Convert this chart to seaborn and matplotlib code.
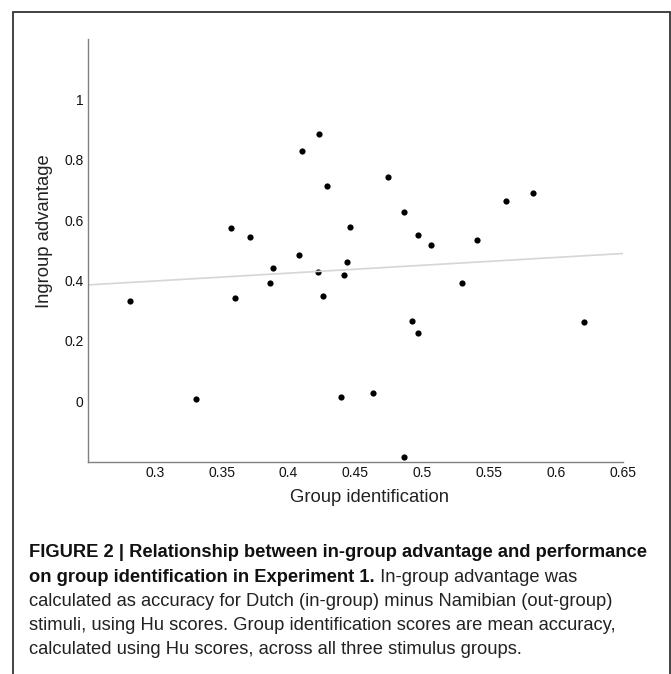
import pandas as pd
import matplotlib
matplotlib.use('Agg')
import matplotlib.pyplot as plt
import seaborn as sns
from matplotlib.patches import Rectangle

# values
group_id = [0.357, 0.371, 0.4225, 0.4097, 0.4746, 0.4287, 0.4864, 0.4462,
            0.4966, 0.5066, 0.408, 0.4434, 0.541, 0.5622, 0.5822, 0.2817,
            0.3603, 0.3311, 0.3885, 0.386, 0.4217, 0.4417, 0.4255, 0.4921,
            0.4966, 0.4392, 0.4627, 0.4861, 0.5293, 0.6206]
ingroup_adv = [0.575, 0.546, 0.887, 0.831, 0.745, 0.712, 0.627, 0.579,
               0.551, 0.519, 0.486, 0.461, 0.534, 0.665, 0.692, 0.332,
               0.344, 0.008, 0.441, 0.393, 0.429, 0.420, 0.348, 0.267,
               0.227, 0.015, 0.028, -0.183, 0.393, 0.263]

x_ticks = [0.3, 0.35, 0.4, 0.45, 0.5, 0.55, 0.6, 0.65]
x_tick_labels = ['0.3', '0.35', '0.4', '0.45', '0.5', '0.55', '0.6', '0.65']
y_ticks = [0, 0.2, 0.4, 0.6, 0.8, 1]
y_tick_labels = ['0', '0.2', '0.4', '0.6', '0.8', '1']

caption_bold_1 = 'FIGURE 2 | Relationship between in-group advantage and performance'
caption_bold_2 = 'on group identification in Experiment 1.'
caption_rest_2 = ' In-group advantage was'
caption_lines = ['calculated as accuracy for Dutch (in-group) minus Namibian (out-group)',
                 'stimuli, using Hu scores. Group identification scores are mean accuracy,',
                 'calculated using Hu scores, across all three stimulus groups.']

df = pd.DataFrame({'Group identification': group_id,
                   'Ingroup advantage': ingroup_adv})

sns.set_style('white')
plt.rcParams['font.family'] = ['Liberation Sans', 'DejaVu Sans']

fig = plt.figure(figsize=(6.71, 6.74), dpi=100)
ax = fig.add_axes([0.1307, 0.315, 0.7982, 0.6268])
ax.set_xlim(0.25, 0.65)
ax.set_ylim(-0.2, 1.2)

sns.regplot(data=df, x='Group identification', y='Ingroup advantage',
            ci=None, truncate=False, ax=ax,
            scatter_kws=dict(s=20, color='black', linewidths=0, alpha=1),
            line_kws=dict(color='#d6d6d6', lw=1.2))

ax.set_xlim(0.25, 0.65)
ax.set_ylim(-0.2, 1.2)
ax.set_xticks(x_ticks)
ax.set_xticklabels(x_tick_labels)
ax.set_yticks(y_ticks)
ax.set_yticklabels(y_tick_labels)

# matlab-like axes: only left/bottom, ticks pointing in
for side in ['top', 'right']:
    ax.spines[side].set_visible(False)
for side in ['left', 'bottom']:
    ax.spines[side].set_color('#808080')
    ax.spines[side].set_linewidth(1.0)
ax.tick_params(direction='in', length=4, width=0.8, color='#808080',
               labelsize=10, labelcolor='#111111', pad=3)

ax.set_xlabel('Group identification', fontsize=13.3, color='#222222')
ax.set_ylabel('Ingroup advantage', fontsize=13.3, color='#222222')
ax.xaxis.set_label_coords(0.527, -0.065)
ax.yaxis.set_label_coords(-0.064, 0.545)

# frame round the figure
fig.add_artist(Rectangle((12.5 / 671, -0.05), 657 / 671, 0.9826 + 0.05,
                         transform=fig.transFigure, fill=False,
                         lw=1.3, ec='#333333'))

# caption
cap_font = ['Liberation Sans', 'DejaVu Sans']
cap_size = 13.2
cap_x = 29 / 671
fig.text(cap_x, 1 - 557 / 674, caption_bold_1, family=cap_font,
         weight='bold', fontsize=cap_size, color='#111111', va='baseline')
t2 = fig.text(cap_x, 1 - 582 / 674, caption_bold_2, family=cap_font,
              weight='bold', fontsize=cap_size, color='#111111', va='baseline')
ax.annotate(caption_rest_2, xy=(1, 0), xycoords=t2, va='bottom', ha='left',
            family=cap_font, fontsize=cap_size, color='#222222',
            annotation_clip=False)
for i, line in enumerate(caption_lines):
    fig.text(cap_x, 1 - (606 + 24 * i) / 674, line, family=cap_font,
             fontsize=cap_size, color='#222222', va='baseline')

fig.savefig('out.png', dpi=100)
